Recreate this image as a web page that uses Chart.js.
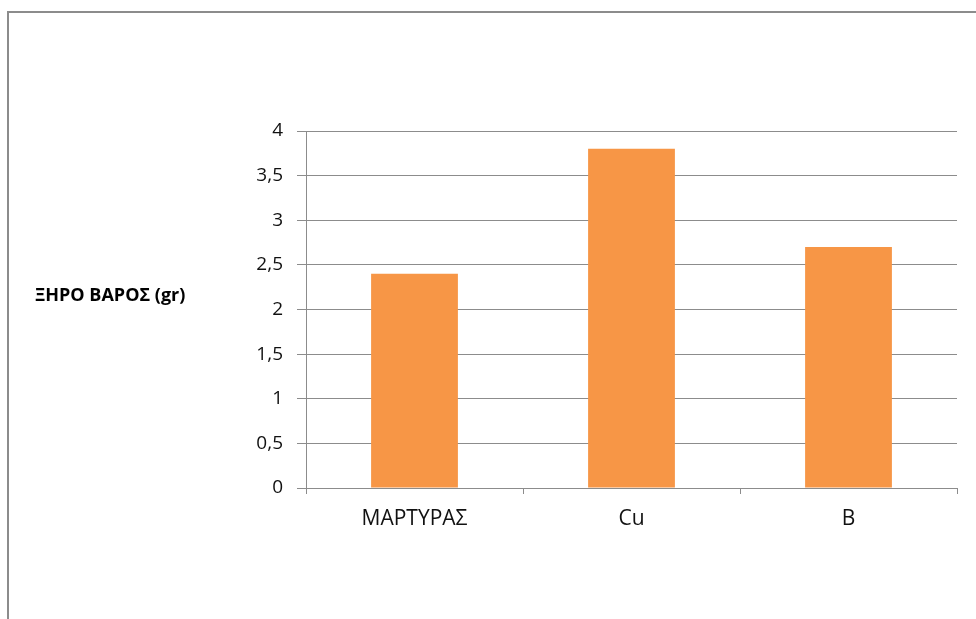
<!DOCTYPE html>
<html>
<head>
<meta charset="utf-8">
<script src="https://cdn.jsdelivr.net/npm/chart.js@4/dist/chart.umd.min.js"></script>
<style>
  html, body { margin: 0; padding: 0; background: #fff; }
  #wrap { position: relative; width: 976px; height: 619px; overflow: hidden; }
  #frame {
    position: absolute; left: 7px; top: 11px; width: 1000px; height: 700px;
    border-top: 2px solid #8c8c8c; border-left: 2px solid #8c8c8c;
  }
  canvas { position: absolute; left: 0; top: 0; }
</style>
</head>
<body>
<div id="wrap">
  <div id="frame"></div>
  <canvas id="grafico" width="976" height="619"></canvas>
</div>
<script>
const categorias = ['ΜΑΡΤΥΡΑΣ', 'Cu', 'B'];
const xiroVaros = [2.4, 3.8, 2.7];
const tituloY = 'ΞΗΡΟ ΒΑΡΟΣ (gr)';
const yMin = 0;
const yMax = 4;
const yBima = 0.5;

const fonte = "'Open Sans', 'Liberation Sans', sans-serif";

// titlo tou axona y, orizontia opws sto Excel
const tituloPlugin = {
    id: 'tituloY',
    afterDraw(chart) {
        const ctx = chart.ctx;
        const area = chart.chartArea;
        ctx.save();
        ctx.font = 'bold 18px ' + fonte;
        ctx.fillStyle = '#000';
        ctx.textAlign = 'left';
        ctx.textBaseline = 'middle';
        ctx.fillText(tituloY, 35, (area.top + area.bottom) / 2 - 14);
        ctx.restore();
    }
};

const ctx = document.getElementById('grafico').getContext('2d');

new Chart(ctx, {
    type: 'bar',
    data: {
        labels: categorias,
        datasets: [{
            data: xiroVaros,
            backgroundColor: '#f79646',
            borderWidth: 0,
            barPercentage: 0.4,
            categoryPercentage: 1
        }]
    },
    options: {
        responsive: false,
        animation: false,
        layout: {
            padding: { top: 131, right: 19, bottom: 0, left: 0 }
        },
        plugins: {
            legend: { display: false },
            tooltip: { enabled: false }
        },
        scales: {
            x: {
                afterFit(scale) { scale.height = 131; },
                grid: {
                    display: true,
                    offset: true,
                    drawOnChartArea: false,
                    drawTicks: true,
                    tickLength: 6,
                    color: '#8c8c8c'
                },
                border: { display: true, color: '#8c8c8c' },
                ticks: {
                    color: '#111',
                    padding: 12,
                    font: { family: fonte, size: 21 }
                }
            },
            y: {
                min: yMin,
                max: yMax,
                afterFit(scale) { scale.width = 306; },
                ticks: {
                    stepSize: yBima,
                    color: '#111',
                    padding: 14,
                    font: { family: fonte, size: 19 },
                    callback: v => String(v).replace('.', ',')
                },
                grid: {
                    color: '#8c8c8c',
                    tickLength: 9
                },
                border: { display: true, color: '#8c8c8c' }
            }
        }
    },
    plugins: [tituloPlugin]
});
</script>
</body>
</html>
